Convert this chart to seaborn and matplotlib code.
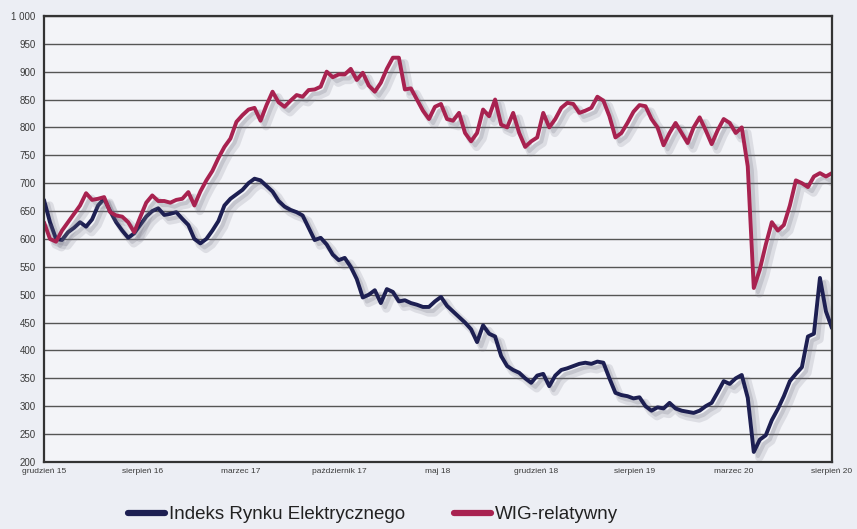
import numpy as np
import pandas as pd
import seaborn as sns
import matplotlib.pyplot as plt
import matplotlib.patheffects as pe

# weekly-ish readings, evenly spaced along the category axis
wig = [630, 600, 595, 615, 630, 645, 660, 682, 670, 672,
       675, 648, 642, 640, 630, 612, 639, 665, 678, 668,
       668, 665, 670, 672, 684, 660, 685, 705, 722, 745,
       765, 780, 810, 822, 832, 835, 812, 840, 864, 845,
       837, 848, 858, 855, 867, 868, 873, 900, 890, 895,
       895, 905, 885, 898, 875, 864, 880, 905, 925, 925,
       868, 870, 850, 830, 815, 837, 842, 815, 812, 826,
       790, 775, 790, 832, 820, 850, 805, 800, 826, 790,
       765, 775, 782, 826, 800, 815, 835, 844, 842, 826,
       830, 835, 855, 848, 820, 782, 790, 808, 828, 840,
       838, 815, 800, 768, 790, 808, 790, 772, 800, 818,
       795, 770, 795, 815, 808, 790, 800, 730, 512, 545,
       590, 630, 615, 625, 660, 705, 700, 693, 712, 718,
       712, 718]

irel = [670, 630, 600, 598, 612, 620, 630, 622, 635, 660,
        672, 650, 630, 615, 602, 610, 625, 640, 650, 655,
        643, 645, 648, 636, 625, 600, 592, 600, 615, 632,
        660, 672, 680, 688, 700, 708, 705, 695, 685, 668,
        658, 652, 648, 642, 620, 598, 602, 590, 572, 562,
        566, 550, 528, 495, 500, 508, 485, 510, 505, 488,
        490, 485, 482, 478, 478, 488, 496, 480, 470, 460,
        450, 438, 415, 445, 430, 425, 390, 372, 365, 360,
        350, 342, 355, 358, 336, 355, 365, 368, 372, 376,
        378, 376, 380, 378, 350, 324, 320, 318, 314, 316,
        300, 292, 298, 296, 306, 296, 292, 290, 288, 292,
        300, 306, 325, 345, 340, 350, 356, 315, 218, 240,
        248, 275, 295, 318, 345, 358, 370, 425, 430, 530,
        470, 440]

tick_labels = ['grudzień 15', 'sierpień 16', 'marzec 17', 'październik 17', 'maj 18',
               'grudzień 18', 'sierpień 19', 'marzec 20', 'sierpień 20']

names = ['Indeks Rynku Elektrycznego', 'WIG-relatywny']
colors = ['#1d1f52', '#a82250']

n = len(wig)
df = pd.DataFrame({
    'idx': list(range(n)) * 2,
    'value': irel + wig,
    'series': [names[0]] * n + [names[1]] * n,
})

bg = '#eceef4'
sns.set_theme(style='white')
plt.rcParams['font.family'] = ['Liberation Sans', 'DejaVu Sans']

fig = plt.figure(figsize=(8.57, 5.29), dpi=100, facecolor=bg)
ax = fig.add_axes([0.0513, 0.1267, 0.9195, 0.8433])
ax.set_facecolor('#f3f4f8')

sns.lineplot(data=df, x='idx', y='value', hue='series', palette=colors,
             linewidth=2.8, ax=ax, legend=False)
for line in ax.get_lines():
    line.set_path_effects([
        pe.SimpleLineShadow(offset=(4, -4), shadow_color='#777788', alpha=0.18, linewidth=6),
        pe.SimpleLineShadow(offset=(3, -3), shadow_color='#666677', alpha=0.2),
        pe.Normal()])

ax.set_xlim(0, n - 1)
ax.set_ylim(200, 1000)
ax.set_yticks(range(200, 1001, 50))
ax.set_yticklabels([str(v) if v < 1000 else '1 000' for v in range(200, 1001, 50)],
                   fontsize=7, color='#3a3a3a')
ax.set_xticks(np.linspace(0, n - 1, len(tick_labels)))
ax.set_xticklabels(tick_labels, fontsize=6, color='#3a3a3a')
ax.tick_params(axis='y', length=5, width=1, color='#444444', pad=1)
ax.tick_params(axis='x', length=0, pad=4)
ax.yaxis.grid(True, color='#555555', linewidth=1.0)
ax.set_axisbelow(True)
for s in ax.spines.values():
    s.set_color('#333333')
    s.set_linewidth(1.6)
ax.set_xlabel('')
ax.set_ylabel('')

handles = [plt.Line2D([], [], color=c, linewidth=4.5) for c in colors]
fig.legend(handles, names, loc='center', bbox_to_anchor=(0.435, 0.027), ncol=2,
           frameon=False, fontsize=13.5, handlelength=2.0, handletextpad=0.2,
           columnspacing=2.6, labelcolor='#222222')

fig.savefig('out.png', dpi=100, facecolor=bg)
